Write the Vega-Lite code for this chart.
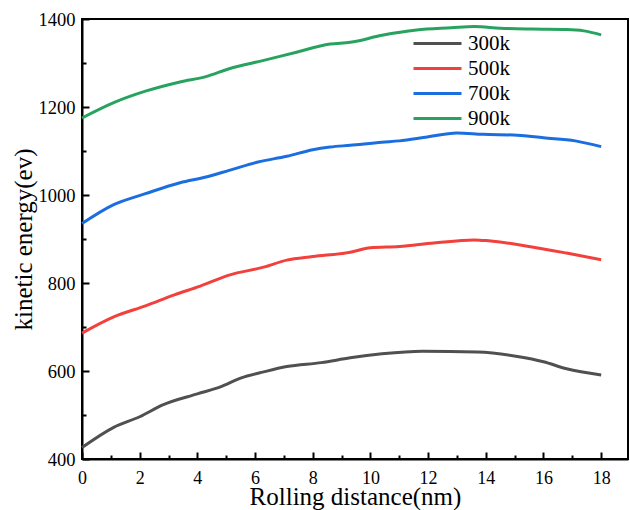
{
  "$schema": "https://vega.github.io/schema/vega-lite/v6.json",
  "width": 546,
  "height": 440,
  "autosize": {"type": "none"},
  "padding": {"left": 82, "top": 19, "right": 2, "bottom": 51},
  "background": "white",
  "config": {
    "view": {"stroke": "black", "strokeWidth": 2},
    "font": "Liberation Serif"
  },
  "data": {
    "values": [
      {"d": 0, "E": 426, "T": "300k"}, {"d": 1.1, "E": 472, "T": "300k"}, {"d": 2, "E": 496, "T": "300k"}, {"d": 2.8, "E": 523, "T": "300k"}, {"d": 4, "E": 548, "T": "300k"}, {"d": 4.8, "E": 564, "T": "300k"}, {"d": 5.5, "E": 584, "T": "300k"}, {"d": 6.3, "E": 598, "T": "300k"}, {"d": 7.1, "E": 610, "T": "300k"}, {"d": 8.3, "E": 619, "T": "300k"}, {"d": 9.3, "E": 630, "T": "300k"}, {"d": 10.4, "E": 639, "T": "300k"}, {"d": 11.8, "E": 645, "T": "300k"}, {"d": 13.7, "E": 643, "T": "300k"}, {"d": 15.1, "E": 633, "T": "300k"}, {"d": 16, "E": 621, "T": "300k"}, {"d": 16.8, "E": 605, "T": "300k"}, {"d": 18, "E": 591, "T": "300k"},
      {"d": 0, "E": 686, "T": "500k"}, {"d": 1.1, "E": 723, "T": "500k"}, {"d": 2.2, "E": 748, "T": "500k"}, {"d": 3.2, "E": 773, "T": "500k"}, {"d": 4.1, "E": 793, "T": "500k"}, {"d": 5.1, "E": 818, "T": "500k"}, {"d": 6.3, "E": 836, "T": "500k"}, {"d": 7.1, "E": 852, "T": "500k"}, {"d": 8, "E": 860, "T": "500k"}, {"d": 9.3, "E": 870, "T": "500k"}, {"d": 10, "E": 880, "T": "500k"}, {"d": 11, "E": 883, "T": "500k"}, {"d": 12.2, "E": 891, "T": "500k"}, {"d": 13.6, "E": 898, "T": "500k"}, {"d": 14.1, "E": 896, "T": "500k"}, {"d": 15.6, "E": 882, "T": "500k"}, {"d": 16.8, "E": 868, "T": "500k"}, {"d": 18, "E": 853, "T": "500k"},
      {"d": 0, "E": 935, "T": "700k"}, {"d": 1.1, "E": 978, "T": "700k"}, {"d": 2.2, "E": 1003, "T": "700k"}, {"d": 3.4, "E": 1028, "T": "700k"}, {"d": 4.3, "E": 1041, "T": "700k"}, {"d": 5.1, "E": 1056, "T": "700k"}, {"d": 6.1, "E": 1075, "T": "700k"}, {"d": 7.1, "E": 1088, "T": "700k"}, {"d": 8, "E": 1103, "T": "700k"}, {"d": 8.6, "E": 1109, "T": "700k"}, {"d": 9.3, "E": 1113, "T": "700k"}, {"d": 10.4, "E": 1120, "T": "700k"}, {"d": 11, "E": 1123, "T": "700k"}, {"d": 11.9, "E": 1131, "T": "700k"}, {"d": 13, "E": 1141, "T": "700k"}, {"d": 13.9, "E": 1138, "T": "700k"}, {"d": 15.1, "E": 1136, "T": "700k"}, {"d": 16, "E": 1130, "T": "700k"}, {"d": 17.1, "E": 1123, "T": "700k"}, {"d": 18, "E": 1110, "T": "700k"},
      {"d": 0, "E": 1175, "T": "900k"}, {"d": 1.1, "E": 1210, "T": "900k"}, {"d": 2.2, "E": 1236, "T": "900k"}, {"d": 3.4, "E": 1257, "T": "900k"}, {"d": 4.3, "E": 1269, "T": "900k"}, {"d": 5.1, "E": 1287, "T": "900k"}, {"d": 6.3, "E": 1306, "T": "900k"}, {"d": 7.4, "E": 1324, "T": "900k"}, {"d": 8.6, "E": 1343, "T": "900k"}, {"d": 9.3, "E": 1347, "T": "900k"}, {"d": 10.4, "E": 1363, "T": "900k"}, {"d": 11.6, "E": 1375, "T": "900k"}, {"d": 12.8, "E": 1380, "T": "900k"}, {"d": 13.6, "E": 1383, "T": "900k"}, {"d": 14.5, "E": 1379, "T": "900k"}, {"d": 15.6, "E": 1377, "T": "900k"}, {"d": 16.8, "E": 1376, "T": "900k"}, {"d": 17.4, "E": 1373, "T": "900k"}, {"d": 18, "E": 1364, "T": "900k"}
    ]
  },
  "resolve": {"axis": {"x": "independent", "y": "independent"}},
  "layer": [
    {
      "mark": {"type": "line", "strokeOpacity": 0},
      "encoding": {
        "x": {
          "field": "d", "type": "quantitative",
          "scale": {"domain": [0, 18.93], "nice": false, "zero": false},
          "axis": {
            "orient": "bottom", "title": null, "labels": false, "domain": false, "grid": false,
            "values": [1,3,5,7,9,11,13,15,17],
            "tickSize": -4, "tickColor": "black", "tickWidth": 2
          }
        },
        "y": {
          "field": "E", "type": "quantitative",
          "scale": {"domain": [400, 1400], "nice": false, "zero": false},
          "axis": {
            "orient": "left", "title": null, "labels": false, "domain": false, "grid": false,
            "values": [500,700,900,1100,1300],
            "tickSize": -4, "tickColor": "black", "tickWidth": 2
          }
        },
        "detail": {"field": "T"}
      }
    },
    {
      "mark": {"type": "line", "strokeWidth": 3, "interpolate": "monotone"},
      "encoding": {
        "x": {
          "field": "d", "type": "quantitative",
          "scale": {"domain": [0, 18.93], "nice": false, "zero": false},
          "axis": {
            "orient": "bottom",
            "title": "Rolling distance(nm)",
            "titleFont": "Liberation Serif", "titleFontSize": 25, "titleFontWeight": "normal", "titleColor": "black", "titlePadding": -3,
            "values": [0,2,4,6,8,10,12,14,16,18],
            "labelFont": "Liberation Serif", "labelFontSize": 18, "labelColor": "black", "labelPadding": 17, "labelFlush": false,
            "tickSize": -7, "tickColor": "black", "tickWidth": 2,
            "domainColor": "black", "domainWidth": 2, "grid": false
          }
        },
        "y": {
          "field": "E", "type": "quantitative",
          "scale": {"domain": [400, 1400], "nice": false, "zero": false},
          "axis": {
            "orient": "left",
            "title": "kinetic energy(ev)",
            "titleFont": "Liberation Serif", "titleFontSize": 25, "titleFontWeight": "normal", "titleColor": "black", "titlePadding": 2,
            "values": [400,600,800,1000,1200,1400],
            "format": "d",
            "labelFont": "Liberation Serif", "labelFontSize": 18.5, "labelColor": "black", "labelPadding": 14, "labelFlush": false,
            "tickSize": -7, "tickColor": "black", "tickWidth": 2,
            "domainColor": "black", "domainWidth": 2, "grid": false
          }
        },
        "color": {
          "field": "T", "type": "nominal",
          "scale": {"domain": ["300k", "500k", "700k", "900k"], "range": ["#505050", "#f2403c", "#1b6ee0", "#28a35f"]},
          "legend": {
            "title": null, "orient": "none", "legendX": 342, "legendY": 11,
            "symbolType": "M-2,0H2", "symbolSize": 576, "symbolStrokeWidth": 3,
            "labelFont": "Liberation Serif", "labelFontSize": 21, "labelColor": "black", "labelOffset": 17,
            "rowPadding": 1
          }
        }
      }
    }
  ]
}
